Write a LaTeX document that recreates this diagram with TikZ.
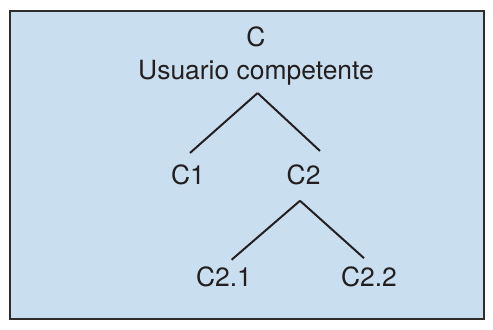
\documentclass[tikz,border=0pt]{standalone}
\usepackage{fontspec}
\setmainfont{TeX Gyre Heros}
\definecolor{panelblue}{RGB}{201,222,238}
\definecolor{panelline}{RGB}{45,45,45}
\definecolor{inkgrey}{RGB}{35,31,32}
\tikzset{
  lbl/.style={anchor=base, inner sep=0pt, text=inkgrey, font=\fontsize{18.8}{22}\selectfont},
  branch/.style={draw=inkgrey, line width=1.4pt}
}
\begin{document}
\begin{tikzpicture}
      \useasboundingbox (0,0) rectangle (12.325,8.225);
      \draw[panelline, line width=1.4pt, fill=panelblue] (0.24,0.24) rectangle (12.09,7.96);

      \node[lbl] (comp) at (6.4,7.05) {C};
      \node[lbl] (user) at (6.4,6.225) {Usuario competente};
      \node[lbl] (c1) at (4.7,3.6) {C1};
      \node[lbl] (c2) at (7.59,3.6) {C2};
      \node[lbl] (c21) at (5.6,1.06) {C2.1};
      \node[lbl] (c22) at (9.225,1.06) {C2.2};

      \coordinate (fork1) at ([shift={(0.04,-0.175)}]user.south);
      \coordinate (fork2) at ([shift={(-0.09,-0.375)}]c2.south);

      \draw[branch] (fork1) -- ([shift={(0.05,0.3)}]c1.north);
      \draw[branch] (fork1) -- ([shift={(0.41,0.35)}]c2.north);
      \draw[branch] (fork2) -- ([shift={(0.19,0.17)}]c21.north);
      \draw[branch] (fork2) -- ([shift={(-0.125,0.21)}]c22.north);
\end{tikzpicture}
\end{document}
